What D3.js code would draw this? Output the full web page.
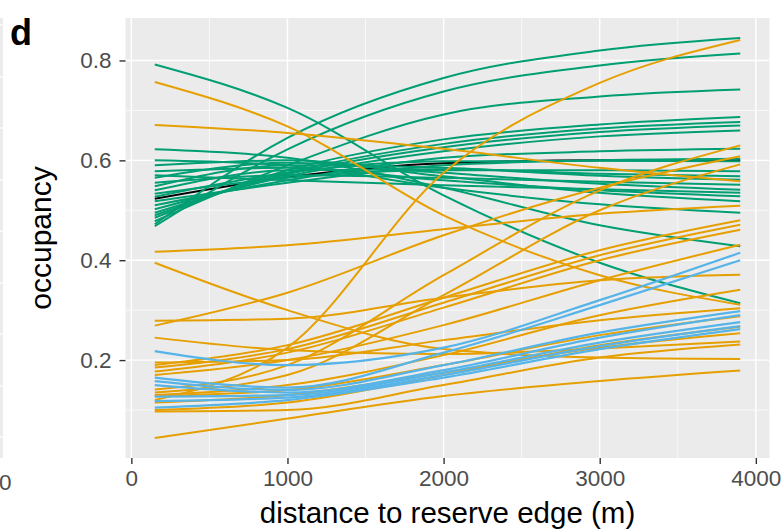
<!DOCTYPE html>
<html>
<head>
<meta charset="utf-8">
<script src="https://cdn.jsdelivr.net/npm/d3@7"></script>
<style>
  html, body { margin: 0; padding: 0; background: #ffffff; }
  svg { display: block; }
</style>
</head>
<body>
<svg id="chart" width="784" height="531"></svg>
<script>
// Distance knots (m) at which each fitted occupancy curve is given
const distance = [150, 1000, 2000, 3000, 3900];

// Axis ticks
const xTicks = [0, 1000, 2000, 3000, 4000];
const xMinorTicks = [500, 1500, 2500, 3500];
const yTicks = [0.2, 0.4, 0.6, 0.8];
const yMinorTicks = [0.1, 0.3, 0.5, 0.7];

// Community-average curve
const blackSeries = [0.523, 0.566, 0.594, 0.600, 0.600];

// Species curves, green group
const greenSeries = [
  [0.472, 0.645, 0.765, 0.820, 0.845],
  [0.468, 0.622, 0.738, 0.790, 0.814],
  [0.478, 0.590, 0.692, 0.728, 0.742],
  [0.485, 0.580, 0.642, 0.672, 0.687],
  [0.490, 0.575, 0.633, 0.664, 0.677],
  [0.495, 0.572, 0.626, 0.657, 0.670],
  [0.502, 0.568, 0.618, 0.648, 0.660],
  [0.792, 0.705, 0.530, 0.395, 0.314],
  [0.622, 0.605, 0.545, 0.470, 0.428],
  [0.510, 0.560, 0.605, 0.618, 0.623],
  [0.518, 0.555, 0.590, 0.600, 0.603],
  [0.527, 0.575, 0.598, 0.599, 0.598],
  [0.533, 0.565, 0.580, 0.580, 0.578],
  [0.540, 0.580, 0.582, 0.573, 0.568],
  [0.548, 0.590, 0.585, 0.569, 0.561],
  [0.555, 0.570, 0.565, 0.557, 0.551],
  [0.565, 0.595, 0.575, 0.553, 0.541],
  [0.570, 0.560, 0.550, 0.542, 0.535],
  [0.578, 0.585, 0.560, 0.540, 0.528],
  [0.590, 0.600, 0.568, 0.535, 0.518],
  [0.600, 0.590, 0.545, 0.512, 0.495]
];

// Species curves, orange group
const orangeSeries = [
  [0.757, 0.668, 0.490, 0.370, 0.311],
  [0.671, 0.655, 0.623, 0.585, 0.558],
  [0.417, 0.430, 0.462, 0.493, 0.509],
  [0.395, 0.300, 0.222, 0.205, 0.202],
  [0.120, 0.225, 0.575, 0.755, 0.841],
  [0.044, 0.083, 0.128, 0.158, 0.179],
  [0.269, 0.335, 0.450, 0.545, 0.608],
  [0.279, 0.283, 0.325, 0.360, 0.371],
  [0.245, 0.220, 0.212, 0.223, 0.237],
  [0.141, 0.190, 0.370, 0.540, 0.630],
  [0.135, 0.170, 0.330, 0.500, 0.592],
  [0.190, 0.230, 0.325, 0.420, 0.480],
  [0.185, 0.222, 0.315, 0.410, 0.471],
  [0.177, 0.215, 0.305, 0.400, 0.461],
  [0.170, 0.200, 0.270, 0.360, 0.431],
  [0.130, 0.150, 0.210, 0.290, 0.341],
  [0.195, 0.200, 0.240, 0.280, 0.304],
  [0.128, 0.140, 0.190, 0.250, 0.288],
  [0.100, 0.115, 0.170, 0.230, 0.267],
  [0.115, 0.130, 0.175, 0.225, 0.254],
  [0.097, 0.100, 0.150, 0.205, 0.231]
];

// Species curves, blue group
const blueSeries = [
  [0.218, 0.190, 0.225, 0.320, 0.415],
  [0.165, 0.145, 0.215, 0.310, 0.400],
  [0.158, 0.140, 0.190, 0.255, 0.298],
  [0.150, 0.135, 0.180, 0.245, 0.290],
  [0.127, 0.130, 0.175, 0.235, 0.276],
  [0.118, 0.125, 0.170, 0.228, 0.268],
  [0.105, 0.120, 0.165, 0.222, 0.262]
];

const colors = { green: "#009E73", orange: "#E69F00", blue: "#56B4E9", black: "#000000" };
const font = "Liberation Sans, Arial, Helvetica, sans-serif";

const svg = d3.select("#chart");
const panel = { left: 125.5, right: 769.5, top: 18, bottom: 458 };

// ggplot-style 5% expansion around the data range
const allVals = [].concat(blackSeries, ...greenSeries, ...orangeSeries, ...blueSeries);
const yMin = d3.min(allVals), yMax = d3.max(allVals);
const xMin = d3.min(distance), xMax = d3.max(distance);
const xPad = (xMax - xMin) * 0.05, yPad = (yMax - yMin) * 0.05;

const x = d3.scaleLinear().domain([xMin - xPad, xMax + xPad]).range([panel.left, panel.right]);
const y = d3.scaleLinear().domain([yMin - yPad, yMax + yPad]).range([panel.bottom, panel.top]);

// Fragment of the neighbouring panel at the far left
const strip = svg.append("g");
strip.append("rect").attr("x", 0).attr("y", panel.top).attr("width", 3)
  .attr("height", panel.bottom - panel.top).attr("fill", "#EBEBEB");
[25, 77, 128, 180, 231, 283, 334, 386, 437].forEach(yy => {
  strip.append("line").attr("x1", 0).attr("x2", 3).attr("y1", yy).attr("y2", yy)
    .attr("stroke", "#ffffff").attr("stroke-width", 1.2);
});
strip.append("text").attr("x", -1).attr("y", 490).text("0")
  .attr("font-family", font).attr("font-size", 22.5)
  .attr("fill", "#4D4D4D");

// Panel background
svg.append("rect")
  .attr("x", panel.left).attr("y", panel.top)
  .attr("width", panel.right - panel.left).attr("height", panel.bottom - panel.top)
  .attr("fill", "#EBEBEB");

const grid = svg.append("g");
// minor grid
grid.selectAll("line.xminor").data(xMinorTicks).join("line")
  .attr("class", "xminor")
  .attr("x1", d => x(d)).attr("x2", d => x(d))
  .attr("y1", panel.top).attr("y2", panel.bottom)
  .attr("stroke", "#ffffff").attr("stroke-width", 0.7);
grid.selectAll("line.yminor").data(yMinorTicks).join("line")
  .attr("class", "yminor")
  .attr("x1", panel.left).attr("x2", panel.right)
  .attr("y1", d => y(d)).attr("y2", d => y(d))
  .attr("stroke", "#ffffff").attr("stroke-width", 0.7);
// major grid
grid.selectAll("line.xmajor").data(xTicks).join("line")
  .attr("class", "xmajor")
  .attr("x1", d => x(d)).attr("x2", d => x(d))
  .attr("y1", panel.top).attr("y2", panel.bottom)
  .attr("stroke", "#ffffff").attr("stroke-width", 1.4);
grid.selectAll("line.ymajor").data(yTicks).join("line")
  .attr("class", "ymajor")
  .attr("x1", panel.left).attr("x2", panel.right)
  .attr("y1", d => y(d)).attr("y2", d => y(d))
  .attr("stroke", "#ffffff").attr("stroke-width", 1.4);

// Curves
const line = d3.line()
  .x((d, i) => x(distance[i]))
  .y(d => y(d))
  .curve(d3.curveMonotoneX);

const curves = svg.append("g").attr("fill", "none").attr("stroke-width", 2)
  .attr("stroke-linejoin", "round").attr("stroke-linecap", "butt");

curves.append("path").datum(blackSeries).attr("d", line).attr("stroke", colors.black);
curves.selectAll("path.green").data(greenSeries).join("path")
  .attr("class", "green").attr("d", line).attr("stroke", colors.green);
curves.selectAll("path.orange").data(orangeSeries).join("path")
  .attr("class", "orange").attr("d", line).attr("stroke", colors.orange);
curves.selectAll("path.blue").data(blueSeries).join("path")
  .attr("class", "blue").attr("d", line).attr("stroke", colors.blue)
  .attr("stroke-width", 2.2);

// Axes
const xAxis = svg.append("g").attr("transform", `translate(0,${panel.bottom})`)
  .call(d3.axisBottom(x).tickValues(xTicks).tickFormat(d3.format("d")).tickSize(6).tickPadding(6));
const yAxis = svg.append("g").attr("transform", `translate(${panel.left},0)`)
  .call(d3.axisLeft(y).tickValues(yTicks).tickFormat(d3.format(".1f")).tickSize(6).tickPadding(8));

[xAxis, yAxis].forEach(ax => {
  ax.select(".domain").remove();
  ax.selectAll(".tick line").attr("stroke", "#333333").attr("stroke-width", 1.4);
  ax.selectAll(".tick text")
    .attr("font-family", font)
    .attr("font-size", 22.5).attr("fill", "#4D4D4D");
});

// Axis titles
svg.append("text")
  .attr("x", (panel.left + panel.right) / 2).attr("y", 523)
  .attr("text-anchor", "middle")
  .attr("font-family", font).attr("font-size", 29.5)
  .attr("fill", "#000000")
  .text("distance to reserve edge (m)");

svg.append("text")
  .attr("transform", `translate(51,${(panel.top + panel.bottom) / 2}) rotate(-90)`)
  .attr("text-anchor", "middle")
  .attr("font-family", font).attr("font-size", 30)
  .attr("fill", "#000000")
  .text("occupancy");

// Panel tag
svg.append("text")
  .attr("x", 10).attr("y", 45)
  .attr("font-family", font).attr("font-size", 36)
  .attr("font-weight", "bold").attr("fill", "#000000")
  .text("d");
</script>
</body>
</html>
